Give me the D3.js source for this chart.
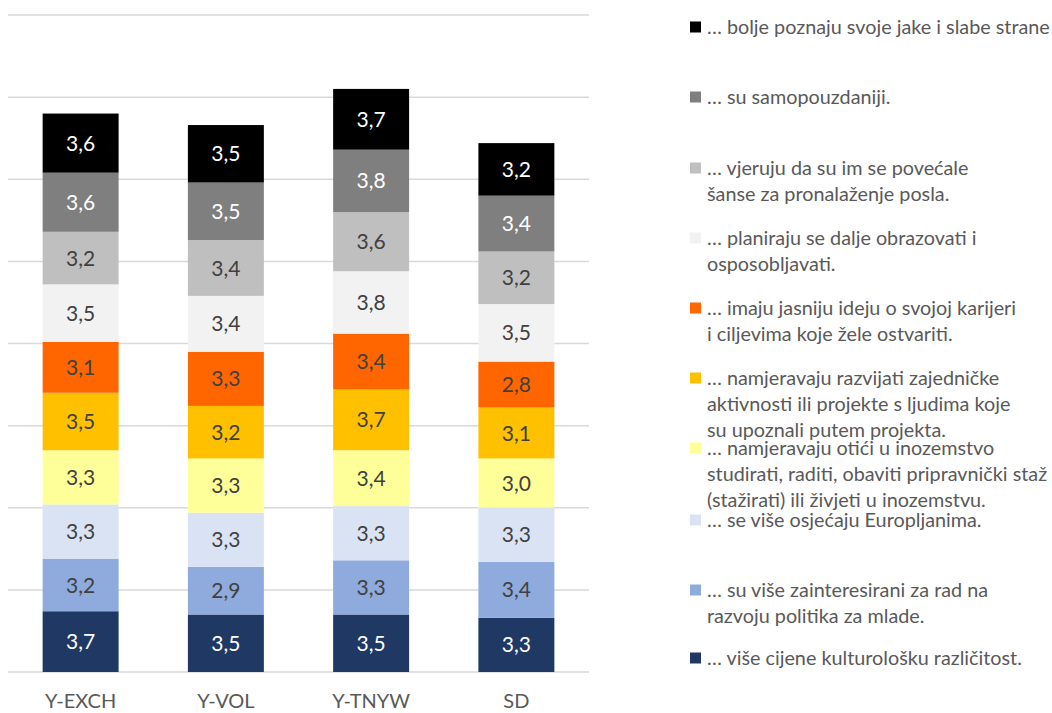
<!DOCTYPE html>
<html><head><meta charset="utf-8">
<script src="https://cdn.jsdelivr.net/npm/d3@7"></script>
<style>body{margin:0;background:#fff}svg{display:block}</style>
</head><body>
<svg id="c" width="1052" height="713"></svg>
<script>
const categories = ["Y-EXCH", "Y-VOL", "Y-TNYW", "SD"];
// series, bottom to top of the stack
const seriesNames = [
  "… više cijene kulturološku različitost.",
  "… su više zainteresirani za rad na\nrazvoju politika za mlade.",
  "… se više osjećaju Europljanima.",
  "… namjeravaju otići u inozemstvo\nstudirati, raditi, obaviti pripravnički staž\n(stažirati) ili živjeti u inozemstvu.",
  "… namjeravaju razvijati zajedničke\naktivnosti ili projekte s ljudima koje\nsu upoznali putem projekta.",
  "… imaju jasniju ideju o svojoj karijeri\ni ciljevima koje žele ostvariti.",
  "… planiraju se dalje obrazovati i\nosposobljavati.",
  "… vjeruju da su im se povećale\nšanse za pronalaženje posla.",
  "… su samopouzdaniji.",
  "… bolje poznaju svoje jake i slabe strane"
];
const kulturoloska    = [3.7, 3.5, 3.5, 3.3];
const politikaMladi   = [3.2, 2.9, 3.3, 3.4];
const europljani      = [3.3, 3.3, 3.3, 3.3];
const inozemstvo      = [3.3, 3.3, 3.4, 3.0];
const zajednicke      = [3.5, 3.2, 3.7, 3.1];
const karijera        = [3.1, 3.3, 3.4, 2.8];
const obrazovanje     = [3.5, 3.4, 3.8, 3.5];
const posao           = [3.2, 3.4, 3.6, 3.2];
const samopouzdanje   = [3.6, 3.5, 3.8, 3.4];
const jakeSlabe       = [3.6, 3.5, 3.7, 3.2];
const seriesValues = [kulturoloska, politikaMladi, europljani, inozemstvo, zajednicke,
                      karijera, obrazovanje, posao, samopouzdanje, jakeSlabe];
const colors = ["#203864", "#8faadc", "#dae3f3", "#ffff99", "#ffc000",
                "#ff6600", "#f2f2f2", "#bfbfbf", "#7f7f7f", "#000000"];
const labelColors = ["#ffffff", "#404040", "#404040", "#404040", "#404040",
                     "#404040", "#404040", "#404040", "#ffffff", "#ffffff"];
const yTicks = [0, 5, 10, 15, 20, 25, 30, 35, 40];

const svg = d3.select("#c");
const FONT = "Lato, 'Open Sans', sans-serif";
const x = d3.scaleBand().domain(categories).range([8, 589]).paddingInner(0.477).paddingOuter(0.2385);
const y = d3.scaleLinear().domain([0, 40]).range([672, 15]);

// gridlines
svg.append("g").selectAll("line").data(yTicks).join("line")
  .attr("x1", 8).attr("x2", 589)
  .attr("y1", d => y(d)).attr("y2", d => y(d))
  .attr("stroke", "#d9d9d9").attr("stroke-width", 1.5);

const table = categories.map((c, i) => {
  const o = {cat: c};
  seriesValues.forEach((s, k) => o["s" + k] = s[i]);
  return o;
});
const stack = d3.stack().keys(seriesValues.map((s, k) => "s" + k))(table);

const g = svg.append("g");
stack.forEach((layer, k) => {
  const lg = g.append("g");
  lg.selectAll("rect").data(layer).join("rect")
    .attr("x", d => x(d.data.cat))
    .attr("width", x.bandwidth())
    .attr("y", d => y(d[1]))
    .attr("height", d => y(d[0]) - y(d[1]))
    .attr("fill", colors[k]);
  lg.selectAll("text").data(layer).join("text")
    .attr("x", d => x(d.data.cat) + x.bandwidth() / 2)
    .attr("y", d => (y(d[0]) + y(d[1])) / 2)
    .attr("dy", "0.36em")
    .attr("text-anchor", "middle")
    .attr("font-family", FONT).attr("font-size", 21)
    .attr("fill", labelColors[k])
    .text(d => d3.format(".1f")(d[1] - d[0]).replace(".", ","));
});

// x axis labels
const xAxis = d3.axisBottom(x).tickSize(0).tickPadding(0);
const ax = svg.append("g").attr("transform", "translate(0,672)").call(xAxis);
ax.select(".domain").remove();
ax.selectAll("text").attr("font-family", FONT).attr("font-size", 20)
  .attr("fill", "#595959").attr("dy", null).attr("y", 36);

// legend (top to bottom = reverse of stack)
const legendY = [27, 97, 168, 238, 308, 378, 448, 520, 590, 658];
const lgItems = seriesNames.map((n, k) => ({name: n, color: colors[k]})).reverse();
const leg = svg.append("g");
lgItems.forEach((it, i) => {
  const cy = legendY[i];
  leg.append("rect").attr("x", 690).attr("y", cy - 5.5).attr("width", 11).attr("height", 11)
    .attr("fill", it.color);
  const t = leg.append("text").attr("font-family", FONT).attr("font-size", 19.8)
    .attr("fill", "#595959");
  it.name.split("\n").forEach((line, j) => {
    t.append("tspan").attr("x", 707).attr("y", cy + j * 25.7).attr("dy", "0.36em").text(line);
  });
});
</script>
</body></html>
